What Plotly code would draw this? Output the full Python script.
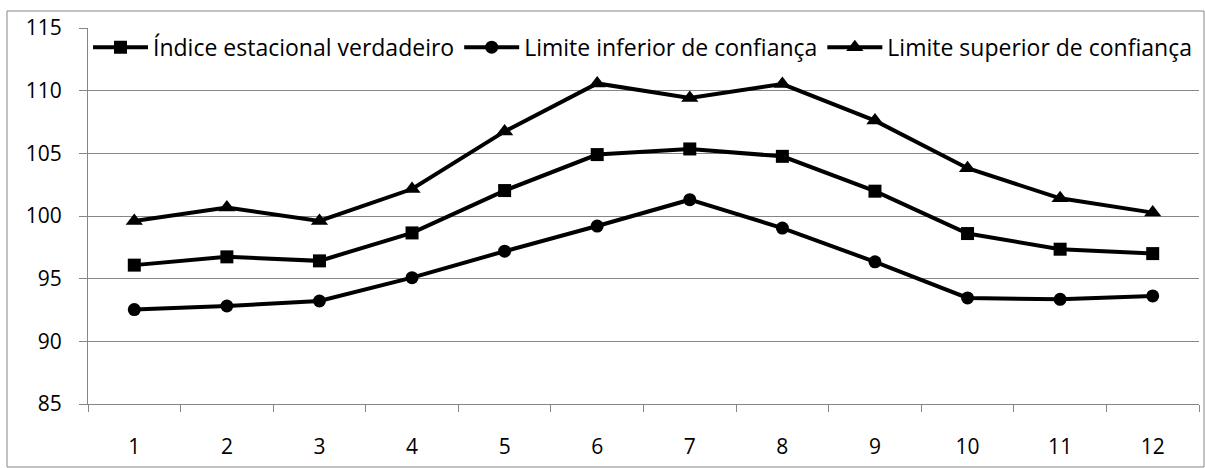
import plotly.graph_objects as go

meses = ["1", "2", "3", "4", "5", "6", "7", "8", "9", "10", "11", "12"]
indice = [96.08, 96.74, 96.42, 98.65, 102.03, 104.9, 105.35, 104.76, 101.98, 98.6, 97.35, 97.0]
inferior = [92.53, 92.82, 93.22, 95.08, 97.19, 99.2, 101.3, 99.04, 96.34, 93.46, 93.35, 93.62]
superior = [99.6, 100.67, 99.6, 102.15, 106.75, 110.58, 109.42, 110.53, 107.61, 103.81, 101.41, 100.27]
nomes = ["Índice estacional verdadeiro", "Limite inferior de confiança", "Limite superior de confiança"]
y_ticks = [85, 90, 95, 100, 105, 110, 115]

W, H = 1205, 468
L, R, T, B = 88, 6, 28, 64
pw, ph = W - L - R, H - T - B

fig = go.Figure()
for nome, vals, sym, sz in [(nomes[0], indice, "square", 13),
                            (nomes[1], inferior, "circle", 13),
                            (nomes[2], superior, "triangle-up", 15)]:
    fig.add_trace(go.Scatter(x=meses, y=vals, name=nome, mode="lines+markers",
                             line=dict(color="black", width=4),
                             marker=dict(symbol=sym, size=sz, color="black")))

grey = "#868686"
fig.update_layout(
    width=W, height=H, margin=dict(l=L, r=R, t=T, b=B),
    paper_bgcolor="white", plot_bgcolor="white",
    font=dict(family="Open Sans", size=21, color="black"),
    showlegend=True,
    legend=dict(orientation="h", x=0.0, y=1.006, xanchor="left", yanchor="top",
                bgcolor="rgba(0,0,0,0)", itemwidth=55, font=dict(size=23),
                tracegroupgap=0),
    xaxis=dict(type="category", range=[-0.5, 11.5], tickson="boundaries",
               showline=True, linecolor=grey, linewidth=1, ticks="outside",
               ticklen=7, tickcolor=grey, showgrid=False, zeroline=False,
               ticklabelstandoff=24, fixedrange=True),
    yaxis=dict(range=[85, 115], tickvals=y_ticks, showline=True, linecolor=grey,
               linewidth=1, ticks="outside", ticklen=8, tickcolor=grey,
               showgrid=True, gridcolor=grey, gridwidth=1, zeroline=False,
               ticklabelstandoff=13, fixedrange=True),
)
# outer chart border
fig.add_shape(type="rect", xref="paper", yref="paper",
              x0=(7 - L) / pw, x1=(1204 - L) / pw,
              y0=(H - B - 467) / ph, y1=(H - B - 11) / ph,
              line=dict(color=grey, width=1), layer="below")
fig.write_html("out.html", config={"displayModeBar": False},
               post_script="document.body.style.margin='0';")
